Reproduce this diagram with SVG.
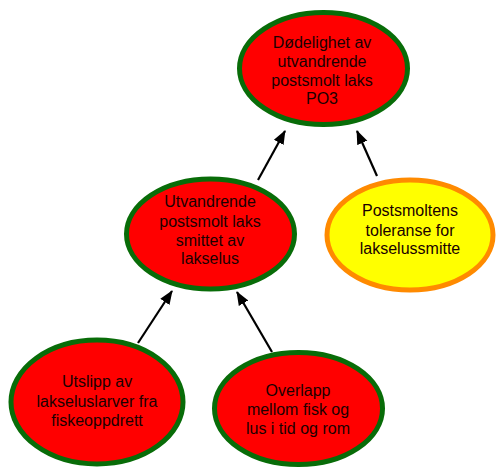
<svg xmlns="http://www.w3.org/2000/svg" width="497" height="468" viewBox="0 0 497 468">
<style>
.n{fill:#ff0000;stroke:#086c08;stroke-width:5}
.y{fill:#ffff00;stroke:#ff8a00;stroke-width:5}
.t{font-family:"Liberation Sans",Arial,sans-serif;font-size:16px;fill:#1a0000;text-anchor:middle}
.e{stroke:#000;stroke-width:2.2;fill:none;marker-end:url(#a)}
</style>
<defs>
<marker id="a" markerUnits="userSpaceOnUse" markerWidth="14" markerHeight="12" refX="13" refY="6" orient="auto">
<path d="M0,0.5 L14,6 L0,11.5 z" fill="#000"/>
</marker>
</defs>
<rect width="497" height="468" fill="#fff"/>
<g id="connectors">
<line class="e" x1="258" y1="180" x2="285" y2="131"/>
<line class="e" x1="377" y1="176" x2="357" y2="131"/>
<line class="e" x1="138" y1="343" x2="172" y2="291"/>
<line class="e" x1="272" y1="352" x2="237" y2="292"/>
</g>
<g id="n1">
<ellipse class="n" cx="323.5" cy="68.5" rx="84" ry="56"/>
<text class="t" x="322" y="48">Dødelighet av</text>
<text class="t" x="322" y="67">utvandrende</text>
<text class="t" x="322" y="86">postsmolt laks</text>
<text class="t" x="322" y="104">PO3</text>
</g>
<g id="n2">
<ellipse class="n" cx="210.5" cy="234" rx="84" ry="55"/>
<text class="t" x="210" y="207">Utvandrende</text>
<text class="t" x="210" y="227">postsmolt laks</text>
<text class="t" x="210" y="245.5">smittet av</text>
<text class="t" x="210" y="264">lakselus</text>
</g>
<g id="n3">
<ellipse class="y" cx="410" cy="235" rx="83" ry="55"/>
<text class="t" x="410" y="215.5">Postsmoltens</text>
<text class="t" x="410" y="235.5">toleranse for</text>
<text class="t" x="410" y="253.5">lakselussmitte</text>
</g>
<g id="n4">
<ellipse class="n" cx="97" cy="402" rx="86" ry="62"/>
<text class="t" x="97" y="387">Utslipp av</text>
<text class="t" x="97" y="407">lakseluslarver fra</text>
<text class="t" x="97" y="425.5">fiskeoppdrett</text>
</g>
<g id="n5">
<ellipse class="n" cx="298.5" cy="408.5" rx="84" ry="56"/>
<text class="t" x="298" y="395.5">Overlapp</text>
<text class="t" x="298" y="414.5">mellom fisk og</text>
<text class="t" x="298" y="433.5">lus i tid og rom</text>
</g>
</svg>
